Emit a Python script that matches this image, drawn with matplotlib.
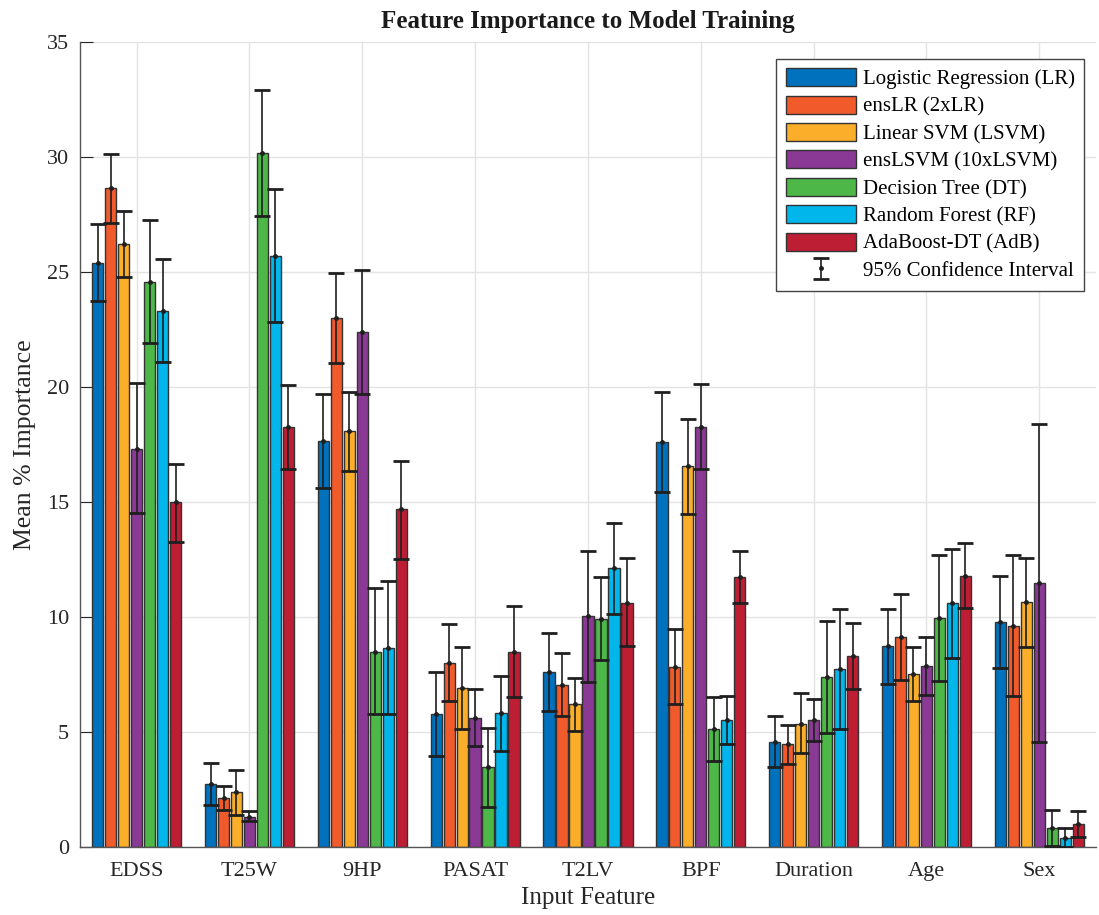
"""
Feature importance bar chart with 95% confidence intervals.
"""
import matplotlib
matplotlib.use('Agg')
import matplotlib.pyplot as plt
import numpy as np

plt.rcParams['font.family'] = ['Liberation Serif', 'DejaVu Serif']
plt.rcParams['mathtext.fontset'] = 'stix'

# ── Data ──
features = ['EDSS', 'T25W', '9HP', 'PASAT', 'T2LV', 'BPF', 'Duration', 'Age', 'Sex']
models = ['Logistic Regression (LR)', 'ensLR (2xLR)', 'Linear SVM (LSVM)',
          'ensLSVM (10xLSVM)', 'Decision Tree (DT)', 'Random Forest (RF)',
          'AdaBoost-DT (AdB)']

# rows = models, columns = features
means = [
    [25.40, 2.75, 17.66, 5.79, 7.61, 17.61, 4.58, 8.73, 9.78],
    [28.64, 2.14, 23.00, 8.02, 7.05, 7.83, 4.46, 9.15, 9.61],
    [26.22, 2.38, 18.07, 6.92, 6.20, 16.57, 5.37, 7.52, 10.64],
    [17.32, 1.32, 22.40, 5.62, 10.03, 18.28, 5.53, 7.87, 11.48],
    [24.56, 30.16, 8.50, 3.46, 9.92, 5.14, 7.38, 9.95, 0.81],
    [23.32, 25.70, 8.67, 5.82, 12.11, 5.54, 7.72, 10.59, 0.41],
    [14.98, 18.27, 14.70, 8.47, 10.62, 11.75, 8.32, 11.79, 0.99],
]
ci_low = [
    [23.76, 1.84, 15.59, 3.96, 5.92, 15.45, 3.46, 7.08, 7.77],
    [27.15, 1.62, 21.05, 6.36, 5.68, 6.21, 3.60, 7.28, 6.55],
    [24.77, 1.41, 16.34, 5.12, 5.05, 14.50, 4.07, 6.35, 8.68],
    [14.51, 1.12, 19.71, 4.41, 7.19, 16.43, 4.63, 6.63, 4.57],
    [21.90, 27.43, 5.79, 1.75, 8.11, 3.74, 4.94, 7.20, 0.03],
    [21.10, 22.81, 5.79, 4.19, 10.14, 4.49, 5.11, 8.23, 0.00],
    [13.27, 16.45, 12.54, 6.51, 8.73, 10.61, 6.89, 10.39, 0.43],
]
ci_high = [
    [27.09, 3.67, 19.71, 7.63, 9.30, 19.78, 5.70, 10.37, 11.78],
    [30.11, 2.64, 24.95, 9.68, 8.42, 9.46, 5.31, 10.99, 12.68],
    [27.67, 3.35, 19.80, 8.71, 7.36, 18.63, 6.69, 8.71, 12.58],
    [20.17, 1.56, 25.10, 6.87, 12.89, 20.12, 6.43, 9.11, 18.41],
    [27.24, 32.90, 11.24, 5.19, 11.75, 6.54, 9.81, 12.69, 1.59],
    [25.57, 28.62, 11.57, 7.44, 14.10, 6.58, 10.34, 12.97, 0.81],
    [16.67, 20.08, 16.80, 10.48, 12.55, 12.89, 9.75, 13.20, 1.55],
]

COLORS = ['#0072BD', '#F15A2B', '#FBAE2A', '#8A3A94', '#4DB748', '#00B6EB', '#BE1E34']
EDGE = '#333333'
ERR = '#1f1f1f'
GRID = '#e3e3e3'

fig = plt.figure(figsize=(10.99, 9.15), dpi=100)
ax = fig.add_axes([0.073, 0.0743, 0.924, 0.8798])

x = np.arange(1, len(features) + 1)
step = 0.115
width = 0.1
n = len(models)

for i, name in enumerate(models):
    pos = x + (i - (n - 1) / 2) * step
    m = np.array(means[i])
    lo = np.array(ci_low[i])
    hi = np.array(ci_high[i])
    ax.bar(pos, m, width, color=COLORS[i], edgecolor=EDGE, linewidth=1.0,
           label=name, zorder=2)
    ax.errorbar(pos, m, yerr=[m - lo, hi - m], fmt='.', color=ERR,
                markersize=5, elinewidth=1.2, capsize=5.5, capthick=2,
                zorder=3, label='95% Confidence Interval' if i == 0 else None)

ax.set_xlim(0.5, 9.5)
ax.set_ylim(0, 35)
ax.set_yticks(np.arange(0, 36, 5))
ax.set_xticks(x)
ax.set_xticklabels(features)
ax.tick_params(axis='both', direction='in', labelsize=16, colors='#262626',
               length=9, pad=8)
ax.tick_params(axis='x', length=4, pad=11)

ax.grid(True, color=GRID, linewidth=1, zorder=0)
ax.set_axisbelow(True)
for s in ['top', 'right']:
    ax.spines[s].set_visible(False)
for s in ['left', 'bottom']:
    ax.spines[s].set_color('#555555')
    ax.spines[s].set_linewidth(1)

ax.set_title('Feature Importance to Model Training', fontsize=18,
             fontweight='bold', color='#1a1a1a', pad=10)
ax.set_xlabel('Input Feature', fontsize=18, color='#262626', labelpad=4)
ax.set_ylabel('Mean % Importance', fontsize=18.5, color='#262626', labelpad=8)

handles, labels = ax.get_legend_handles_labels()
bar_h = [h for h, l in zip(handles, labels) if l != '95% Confidence Interval']
bar_l = [l for l in labels if l != '95% Confidence Interval']
err_h = [h for h, l in zip(handles, labels) if l == '95% Confidence Interval']
leg = ax.legend(bar_h + err_h, bar_l + ['95% Confidence Interval'],
                loc='upper right', bbox_to_anchor=(0.9885, 0.979),
                borderaxespad=0, fontsize=15, frameon=True, fancybox=False,
                edgecolor='#444444', framealpha=1, handlelength=3.4,
                handleheight=0.95, labelspacing=0.3, borderpad=0.45,
                handletextpad=0.3)
leg.get_frame().set_linewidth(1)

fig.savefig('out.png', dpi=100, facecolor='white')
